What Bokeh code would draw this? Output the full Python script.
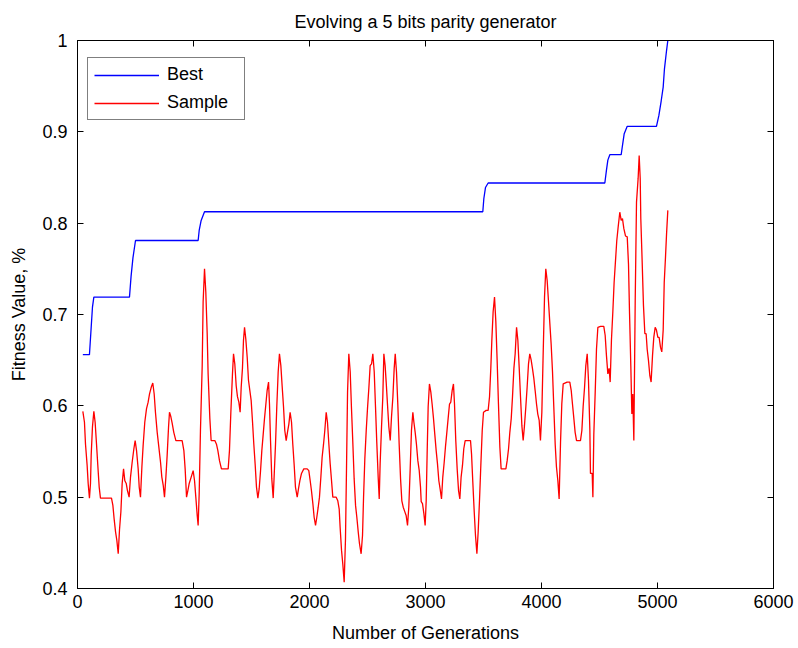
from bokeh.plotting import figure
from bokeh.models import Range1d, LinearAxis, FixedTicker, Legend, LegendItem, ColumnDataSource
from bokeh.embed import file_html
from bokeh.resources import INLINE

# ---------------- data ----------------
title_text = "Evolving a 5 bits parity generator"
x_label = "Number of Generations"
y_label = "Fitness Value, %"
x_ticks = [0, 1000, 2000, 3000, 4000, 5000, 6000]
y_ticks = [0.4, 0.5, 0.6, 0.7, 0.8, 0.9, 1.0]

best_gen = [46, 103, 118, 129, 141, 448, 462, 478, 500, 1040, 1049, 1066, 1095,
            3494, 3503, 3517, 3540, 4546, 4560, 4572, 4589, 4687, 4698, 4713, 4739,
            4991, 5012, 5032, 5049, 5060, 5078, 5089]
best_val = [0.656, 0.656, 0.686, 0.708, 0.719, 0.719, 0.742, 0.762, 0.781, 0.781, 0.792, 0.803, 0.8125,
            0.8125, 0.827, 0.839, 0.844, 0.844, 0.858, 0.869, 0.875, 0.875, 0.885, 0.898, 0.906,
            0.906, 0.918, 0.934, 0.949, 0.969, 0.989, 1.0]

sample_gen = [
    46, 60, 69, 83, 92, 103, 112, 118, 129, 141,
    152, 164, 175, 187, 198, 227, 256, 293, 305, 316,
    328, 339, 351, 362, 374, 385, 397, 408, 420, 431,
    445, 457, 471, 486, 497, 509, 523, 532, 543, 555,
    566, 580, 595, 609, 621, 635, 649, 661, 672, 687,
    701, 716, 727, 739, 750, 762, 773, 785, 793, 805,
    816, 830, 848, 874, 902, 917, 928, 940, 951, 963,
    980, 997, 1009, 1020, 1032, 1040, 1049, 1060, 1075, 1083,
    1095, 1106, 1118, 1126, 1141, 1152, 1184, 1198, 1210, 1224,
    1241, 1267, 1299, 1310, 1322, 1336, 1345, 1356, 1368, 1379,
    1391, 1402, 1411, 1422, 1431, 1440, 1451, 1463, 1474,
    1497, 1509, 1520, 1532, 1543, 1555, 1566, 1578, 1589, 1601,
    1612, 1624, 1635, 1647, 1655, 1664, 1675, 1687, 1695, 1707,
    1718, 1730, 1741, 1753, 1764, 1776, 1787, 1799, 1810, 1822,
    1833, 1845, 1856, 1868, 1879, 1894, 1905, 1917, 1931, 1951,
    1980, 1994, 2006, 2017, 2029, 2040, 2052, 2063, 2075, 2086,
    2098, 2109, 2121, 2132, 2144, 2155, 2167, 2178, 2190, 2201,
    2230, 2244, 2256, 2264, 2276, 2287, 2299, 2310, 2319, 2328,
    2339, 2351, 2362, 2374, 2385, 2397, 2408, 2420, 2431, 2445,
    2457, 2466, 2477, 2489, 2500, 2512, 2523, 2535, 2546, 2558,
    2569, 2580, 2592, 2601, 2609, 2621, 2632, 2641, 2652, 2661,
    2673, 2684, 2696, 2707, 2719, 2730, 2739, 2750, 2762, 2773,
    2785, 2796, 2808, 2819, 2833, 2845, 2856, 2868, 2879, 2891,
    2900, 2911, 2922, 2934, 2946, 2957,
    2963, 2974, 2986, 2997, 3006, 3014, 3023, 3034, 3046, 3057,
    3069, 3080, 3092, 3103, 3115, 3126, 3138, 3149, 3161, 3172,
    3184, 3195, 3207, 3218, 3230, 3241, 3250, 3261, 3273, 3285,
    3296, 3307, 3319, 3330, 3342, 3365, 3388, 3397, 3408, 3420,
    3431, 3443, 3454, 3466, 3477, 3489, 3500, 3523, 3540, 3552,
    3563, 3572, 3583, 3595, 3606, 3618, 3629, 3641, 3652, 3693,
    3704, 3716, 3727, 3739, 3750, 3762, 3773, 3785, 3796, 3808,
    3819, 3831, 3842, 3853, 3865, 3876, 3888, 3899, 3911, 3922,
    3934, 3945, 3957, 3968, 3980, 3991, 4003, 4014, 4026, 4037,
    4049, 4060, 4072, 4083, 4095, 4106, 4118, 4129, 4141, 4152,
    4164, 4175, 4187, 4221, 4244, 4256, 4267, 4279, 4290, 4302,
    4336, 4348, 4359, 4371, 4382, 4394, 4405, 4417, 4422,
    4437, 4443, 4451, 4463, 4474, 4486, 4509, 4537, 4549, 4560,
    4572, 4583, 4592, 4603, 4615, 4626, 4638, 4649, 4661, 4675,
    4687, 4698, 4710, 4724, 4739, 4750, 4759, 4770, 4779, 4787,
    4796, 4808, 4819, 4833, 4842, 4851, 4856, 4868, 4879, 4891,
    4902, 4911, 4922, 4934, 4945, 4957, 4968, 4980, 4991, 5003,
    5014, 5026, 5037, 5049, 5058, 5069, 5078, 5089,
]
sample_val = [
    0.594, 0.582, 0.558, 0.535, 0.515, 0.499, 0.515, 0.546, 0.577, 0.594,
    0.582, 0.558, 0.535, 0.511, 0.499, 0.499, 0.499, 0.499, 0.491, 0.476,
    0.462, 0.453, 0.438, 0.464, 0.484, 0.515, 0.531, 0.518, 0.515, 0.507,
    0.500, 0.522, 0.538, 0.553, 0.562, 0.551, 0.531, 0.511, 0.500, 0.533,
    0.557, 0.582, 0.597, 0.604, 0.613, 0.620, 0.625, 0.613, 0.593, 0.571,
    0.555, 0.538, 0.522, 0.513, 0.500, 0.522, 0.546, 0.577, 0.593, 0.588,
    0.581, 0.571, 0.562, 0.562, 0.562, 0.551, 0.531, 0.500, 0.507, 0.515,
    0.522, 0.529, 0.518, 0.500, 0.480, 0.469, 0.504, 0.573, 0.644, 0.714,
    0.750, 0.725, 0.679, 0.635, 0.586, 0.562, 0.562, 0.558, 0.551, 0.540,
    0.531, 0.531, 0.531, 0.551, 0.593, 0.635, 0.657, 0.646, 0.622, 0.610,
    0.604, 0.593, 0.620, 0.641, 0.672, 0.686, 0.673, 0.653, 0.628,
    0.606, 0.582, 0.558, 0.535, 0.511, 0.499, 0.509, 0.529, 0.551, 0.569,
    0.586, 0.602, 0.617, 0.626, 0.602, 0.562, 0.520, 0.499, 0.522, 0.558,
    0.599, 0.637, 0.657, 0.644, 0.622, 0.599, 0.573, 0.562, 0.571, 0.580,
    0.593, 0.582, 0.558, 0.535, 0.511, 0.500, 0.509, 0.518, 0.526, 0.531,
    0.531, 0.529, 0.518, 0.507, 0.493, 0.478, 0.469, 0.478, 0.489, 0.500,
    0.522, 0.544, 0.558, 0.573, 0.593, 0.582, 0.558, 0.537, 0.518, 0.500,
    0.500, 0.496, 0.487, 0.467, 0.442, 0.427, 0.407, 0.453, 0.531, 0.615,
    0.657, 0.637, 0.597, 0.558, 0.520, 0.491, 0.478, 0.462, 0.449, 0.438,
    0.458, 0.500, 0.542, 0.573, 0.597, 0.620, 0.644, 0.646, 0.657, 0.637,
    0.599, 0.560, 0.522, 0.498, 0.537, 0.577, 0.610, 0.657, 0.644, 0.626,
    0.600, 0.577, 0.562, 0.588, 0.610, 0.641, 0.657, 0.637, 0.599, 0.558,
    0.520, 0.496, 0.489, 0.485, 0.480, 0.469, 0.489, 0.531, 0.573, 0.593,
    0.582, 0.571, 0.558, 0.540, 0.529, 0.511,
    0.495, 0.493, 0.482, 0.469, 0.496, 0.547, 0.599, 0.624, 0.615, 0.602,
    0.586, 0.569, 0.551, 0.537, 0.518, 0.509, 0.498, 0.522, 0.538, 0.555,
    0.571, 0.586, 0.602, 0.604, 0.617, 0.624, 0.602, 0.562, 0.531, 0.507,
    0.498, 0.522, 0.535, 0.553, 0.562, 0.562, 0.562, 0.547, 0.516, 0.484,
    0.458, 0.438, 0.462, 0.498, 0.535, 0.573, 0.593, 0.595, 0.595, 0.610,
    0.641, 0.672, 0.703, 0.719, 0.693, 0.648, 0.602, 0.555, 0.531, 0.531,
    0.540, 0.553, 0.571, 0.586, 0.610, 0.641, 0.657, 0.686, 0.672, 0.641,
    0.610, 0.578, 0.562, 0.578, 0.599, 0.620, 0.646, 0.657, 0.650, 0.641,
    0.630, 0.617, 0.602, 0.591, 0.584, 0.562, 0.593, 0.655, 0.719, 0.750,
    0.737, 0.715, 0.690, 0.668, 0.637, 0.599, 0.558, 0.533, 0.518, 0.498,
    0.560, 0.602, 0.624, 0.626, 0.626, 0.617, 0.602, 0.586, 0.571, 0.562,
    0.562, 0.573, 0.599, 0.620, 0.644, 0.657, 0.628, 0.573, 0.526,
    0.526, 0.500, 0.569, 0.615, 0.662, 0.686, 0.687, 0.687, 0.677, 0.655,
    0.635, 0.641, 0.626, 0.672, 0.703, 0.735, 0.759, 0.781, 0.796, 0.812,
    0.803, 0.805, 0.794, 0.786, 0.785, 0.755, 0.701, 0.644, 0.591, 0.613,
    0.562, 0.717, 0.823, 0.849, 0.874, 0.849, 0.805, 0.757, 0.710, 0.679,
    0.679, 0.662, 0.650, 0.633, 0.626, 0.655, 0.675, 0.686, 0.683, 0.675,
    0.675, 0.664, 0.659, 0.683, 0.735, 0.763, 0.788, 0.814,
]

FONT = "Liberation Sans"
FS = "18px"

p = figure(frame_width=696, frame_height=548,
           x_range=Range1d(0, 6000), y_range=Range1d(0.4, 1.0),
           output_backend="svg", toolbar_location=None,
           min_border_left=77, min_border_right=25, min_border_top=40, min_border_bottom=60,
           background_fill_color="white", border_fill_color="white",
           x_axis_label=x_label, y_axis_label=y_label, title=title_text)

p.xgrid.visible = False
p.ygrid.visible = False
p.outline_line_color = "black"
p.outline_line_width = 1

p.title.text_font = FONT
p.title.text_font_size = FS
p.title.text_font_style = "normal"
p.title.text_color = "black"
p.title.align = "center"
p.title.standoff = 17

def style_axis(ax, ticks, show_labels=True):
    ax.ticker = FixedTicker(ticks=ticks)
    ax.minor_tick_line_color = None
    ax.major_tick_in = 6
    ax.major_tick_out = 0
    ax.axis_line_color = "black"
    ax.major_tick_line_color = "black"
    ax.major_label_text_font = FONT
    ax.axis_label_text_font = FONT
    ax.axis_label_text_font_size = FS
    ax.axis_label_text_font_style = "normal"
    ax.axis_label_text_color = "black"
    if show_labels:
        ax.major_label_text_font_size = FS
        ax.major_label_text_color = "black"
    else:
        ax.major_label_text_font_size = "1px"
        ax.major_label_text_color = None
        ax.major_label_standoff = 0

xa = p.xaxis[0]
style_axis(xa, x_ticks)
xa.major_label_standoff = 6
xa.axis_label_standoff = 12

ya = p.yaxis[0]
style_axis(ya, y_ticks)
ya.major_label_standoff = 10
ya.axis_label_standoff = 10
ya.major_label_overrides = {1: "1"}

top = LinearAxis()
style_axis(top, x_ticks, show_labels=False)
p.add_layout(top, "above")
right = LinearAxis()
style_axis(right, y_ticks, show_labels=False)
p.add_layout(right, "right")

best_src = ColumnDataSource(dict(x=best_gen, y=best_val))
samp_src = ColumnDataSource(dict(x=sample_gen, y=sample_val))
r_best = p.line("x", "y", source=best_src, line_color="#0000ff", line_width=1.3)
r_samp = p.line("x", "y", source=samp_src, line_color="#ff0000", line_width=1.3)

legend = Legend(items=[LegendItem(label="Best", renderers=[r_best]),
                       LegendItem(label="Sample", renderers=[r_samp])],
                location=(10, 468), margin=0, padding=6, spacing=7,
                glyph_width=65, glyph_height=20, label_height=20, label_width=71,
                label_standoff=8, label_text_font=FONT, label_text_font_size=FS,
                label_text_color="black", border_line_color="black", border_line_width=1,
                background_fill_color="white", background_fill_alpha=1.0)
p.add_layout(legend, "center")

open("out.html", "w").write(file_html(p, INLINE))
